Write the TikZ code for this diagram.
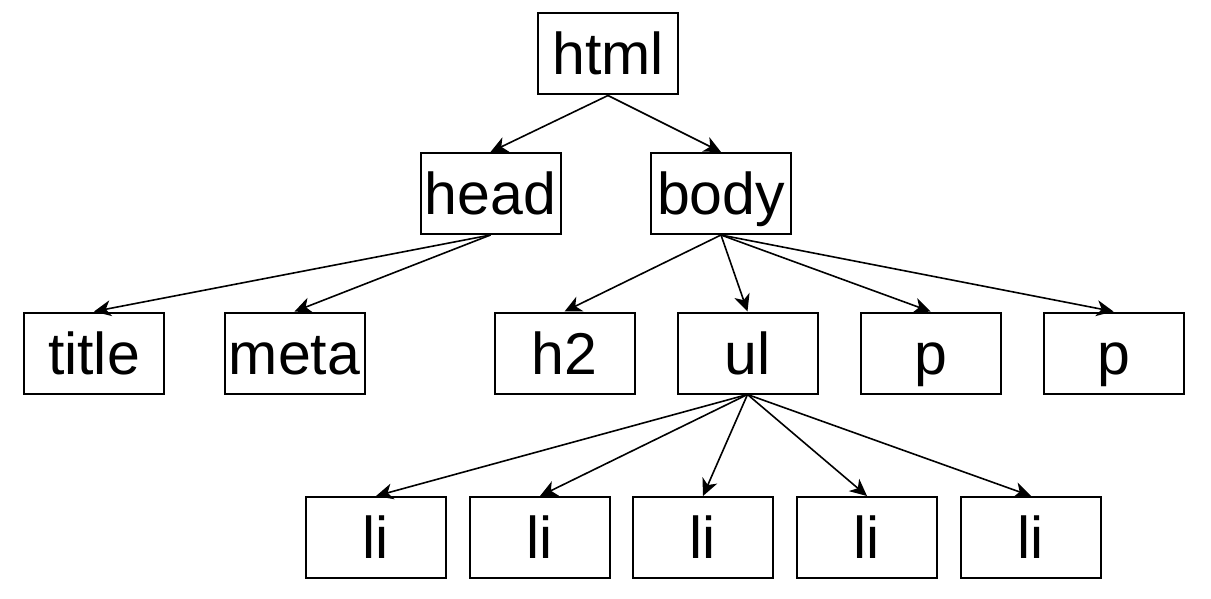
\documentclass[tikz,border=0pt]{standalone}
\usepackage{fontspec}
\setmainfont{Liberation Sans}
\usepackage{tikz}
\usetikzlibrary{arrows.meta}

\begin{document}
\begin{tikzpicture}[
      x=1pt, y=1pt,
      tag/.style={rectangle, draw=black, line width=2pt, minimum width=140pt, minimum height=81pt, inner sep=0pt, text height=45pt, text depth=3pt, font=\fontsize{59}{70}\selectfont},
      arrow/.style={-{Stealth[length=17pt, width=16pt, inset=5pt]}, line width=1.6pt},
    ]
    \useasboundingbox (0, 0) rectangle (1211, -599);
    % root and first level
    \node [tag] (html) at (608, -54) {html};
    \node [tag] (head) at (490.5, -193.5) {head};
    \node [tag] (body) at (721, -193.5) {body};
    \draw [arrow] (html.south) -- (head.north);
    \draw [arrow] (html.south) -- (body.north);
    % children of head and body
    \node [tag] (title) at (94, -353) {title};
    \node [tag] (meta) at (294.5, -353) {meta};
    \node [tag] (h2) at (564.5, -353) {h2};
    \node [tag] (ul) at (747.5, -353) {ul};
    \node [tag] (p1) at (930.5, -353) {p};
    \node [tag] (p2) at (1113.5, -353) {p};
    \draw [arrow] (head.south) -- (title.north);
    \draw [arrow] (head.south) -- (meta.north);
    \foreach \kid in {h2, ul, p1, p2}
      \draw [arrow] (body.south) -- (\kid.north);
    % list items
    \foreach \i/\x in {1/376, 2/540, 3/703, 4/867, 5/1031} {
      \node [tag] (li\i) at (\x, -537.5) {li};
      \draw [arrow] (ul.south) -- (li\i.north);
    }
  \end{tikzpicture}
\end{document}
